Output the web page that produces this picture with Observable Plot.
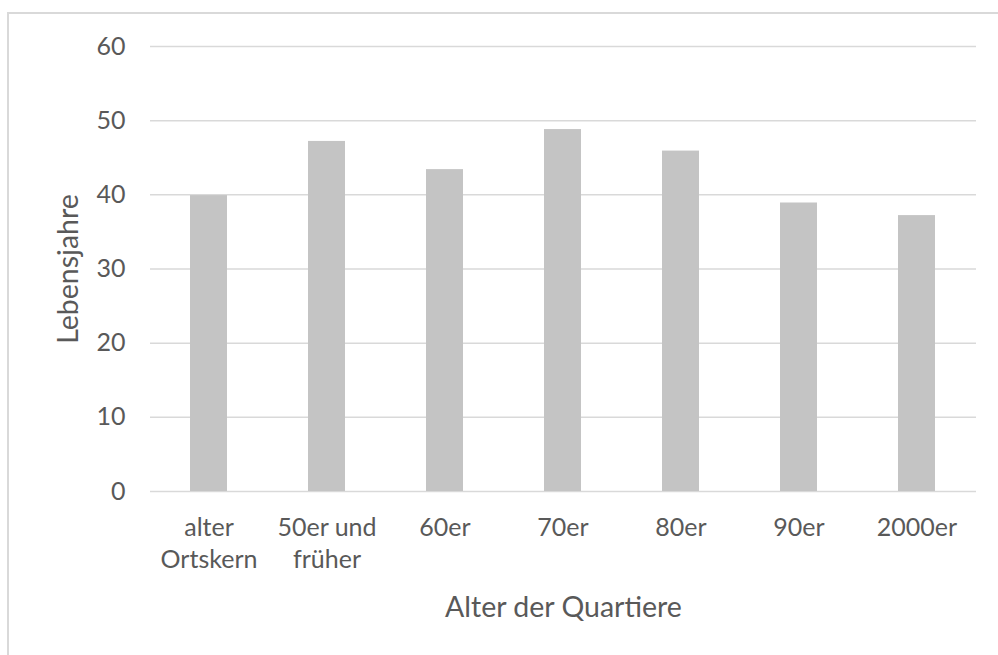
<!DOCTYPE html>
<html>
<head>
<meta charset="utf-8">
<script src="https://cdn.jsdelivr.net/npm/d3@7"></script>
<script src="https://cdn.jsdelivr.net/npm/@observablehq/plot@0.6"></script>
<style>
  html, body { margin: 0; padding: 0; background: #fff; }
  #wrap { position: relative; width: 998px; height: 655px; overflow: hidden; }
  #frame { position: absolute; left: 7px; top: 12px; width: 1020px; height: 700px;
           border: 2.5px solid #d9d9d9; box-sizing: border-box; pointer-events: none; }
  svg { font-family: Lato, "Open Sans", sans-serif; }
</style>
</head>
<body>
<div id="wrap"><div id="frame"></div></div>
<script>
const categories = ["alter Ortskern", "50er und früher", "60er", "70er", "80er", "90er", "2000er"];
const tickLabels = ["alter\nOrtskern", "50er und\nfrüher", "60er", "70er", "80er", "90er", "2000er"];
const values = [39.9, 47.2, 43.4, 48.8, 45.9, 38.9, 37.2];
const yTicks = [0, 10, 20, 30, 40, 50, 60];

const data = categories.map((c, i) => ({cat: c, label: tickLabels[i], value: values[i]}));
const textColor = "#595959";

const chart = Plot.plot({
  width: 998,
  height: 655,
  marginLeft: 150,
  marginRight: 22,
  marginTop: 46,
  marginBottom: 164,
  style: {fontFamily: "Lato, 'Open Sans', sans-serif", fontSize: "25px", color: textColor, background: "transparent"},
  x: {domain: categories, paddingInner: 0.685, paddingOuter: 0.3425},
  y: {domain: [0, 60]},
  marks: [
    Plot.gridY(yTicks, {stroke: "#d9d9d9", strokeOpacity: 1, strokeWidth: 1.5}),
    Plot.barY(data, {x: "cat", y: "value", fill: "#c4c4c4"}),
    Plot.axisY(yTicks, {
      tickSize: 0, tickPadding: 25, fontSize: 25, fill: textColor, label: null
    }),
    Plot.axisX({ticks: [], label: null}),
    Plot.text(["Lebensjahre"], {
      frameAnchor: "left", textAnchor: "middle", lineAnchor: "middle",
      dx: -82, rotate: -90, fontSize: 28.5, fill: textColor
    }),
    Plot.text(data, {
      x: "cat", text: "label", frameAnchor: "bottom", lineAnchor: "top",
      dy: 22, lineHeight: 1.28, fontSize: 25, fill: textColor
    }),
    Plot.text(["Alter der Quartiere"], {
      frameAnchor: "bottom", lineAnchor: "middle", dy: 116, fontSize: 28.5, fill: textColor
    })
  ]
});
document.getElementById("wrap").prepend(chart);
</script>
</body>
</html>
